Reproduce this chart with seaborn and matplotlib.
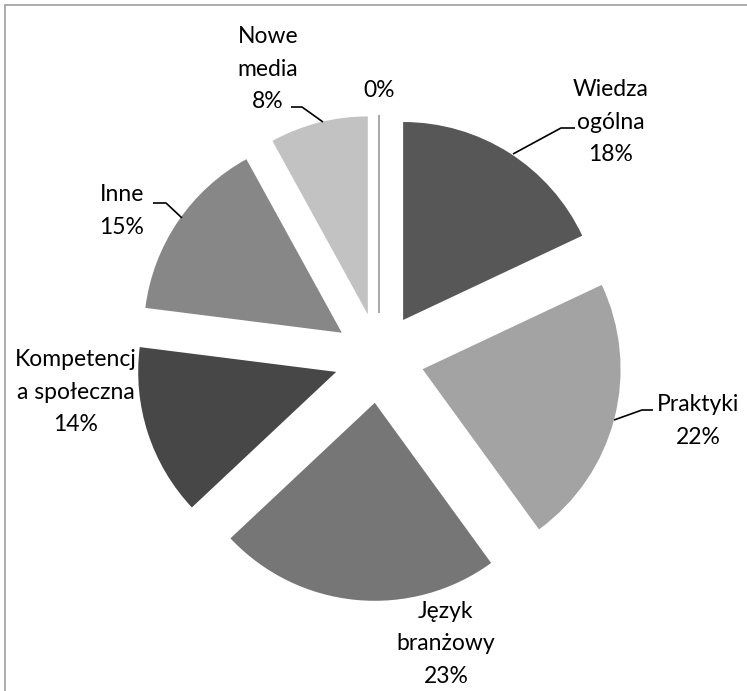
import matplotlib
matplotlib.use("Agg")
import matplotlib.pyplot as plt
import seaborn as sns

# ---- data ----
categories = ["Wiedza\nogólna", "Praktyki", "Język\nbranżowy", "Kompetencj\na społeczna",
              "Inne", "Nowe\nmedia", ""]
values = [18, 22, 23, 14, 15, 8, 0]
pct_labels = ["18%", "22%", "23%", "14%", "15%", "8%", "0%"]
colors = ["#575757", "#a3a3a3", "#767676", "#474747", "#878787", "#c2c2c2", "#ffffff"]

sns.set_style("white")
plt.rcParams["font.family"] = ["Lato", "DejaVu Sans"]

W, H = 747, 691
fig = plt.figure(figsize=(W / 100, H / 100), dpi=100)
ax = fig.add_axes([0, 0, 1, 1])

cx, cy_px = 379, 358
radius = 198
expl = 45

wedges, _ = ax.pie(values, colors=colors, startangle=90, counterclock=False,
                   center=(cx, H - cy_px), radius=radius,
                   explode=[expl] * len(values),
                   wedgeprops=dict(linewidth=0))
# zero slice drawn as a thin line
wedges[-1].set_edgecolor("#9a9a9a")
wedges[-1].set_linewidth(1.2)

ax.set_xlim(0, W)
ax.set_ylim(0, H)
ax.set_aspect("equal")
ax.axis("off")

# labels (pixel positions, y from top)
label_pos = [(611, 122), (698, 421), (446, 644), (76, 392), (122, 211), (268, 69), (379, 90)]
for cat, pct, (x, y) in zip(categories, pct_labels, label_pos):
    txt = f"{cat}\n{pct}" if cat else pct
    ax.text(x, H - y, txt, ha="center", va="center", fontsize=16.5,
            linespacing=1.68, color="black")

# leader lines
leaders = [
    [(575, 128), (561, 128), (513, 154)],
    [(653, 410), (642, 410), (614, 420)],
    [(153, 203), (166, 203), (182, 218)],
    [(291, 107), (302, 107), (323, 122)],
]
for pts in leaders:
    ax.plot([p[0] for p in pts], [H - p[1] for p in pts], color="black", lw=1.2,
            solid_capstyle="butt")

# partial frame (top and left)
ax.plot([5, W], [H - 5, H - 5], color="#a0a0a0", lw=1.2)
ax.plot([5, 5], [H - 5, 0], color="#a0a0a0", lw=1.2)

fig.savefig("out.png", dpi=100)
